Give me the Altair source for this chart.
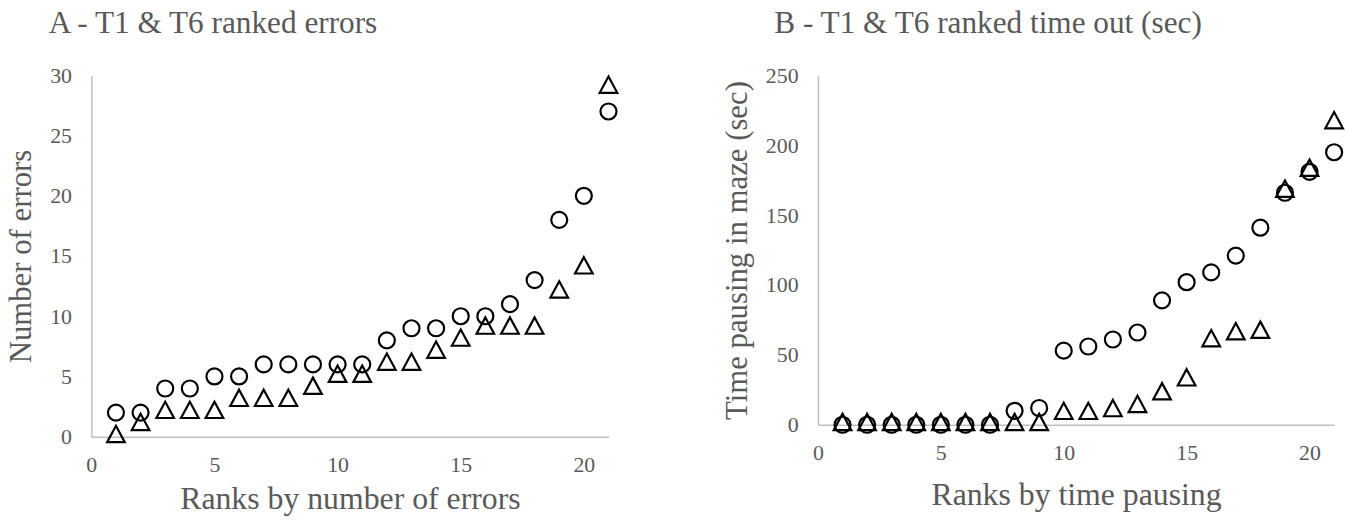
import altair as alt
import pandas as pd

ranks = list(range(1, 22))

# Panel A - ranked errors
a_circle = [2, 2, 4, 4, 5, 5, 6, 6, 6, 6, 6, 8, 9, 9, 10, 10, 11, 13, 18, 20, 27]
a_triangle = [0, 1, 2, 2, 2, 3, 3, 3, 4, 5, 5, 6, 6, 7, 8, 9, 9, 9, 12, 14, 29]

# Panel B - ranked time out (sec)
b_circle = [0, 0, 0, 0, 0, 0, 0, 10, 12, 53, 56, 61, 66, 89, 102, 109, 121, 141, 166, 181, 195]
b_triangle = [0, 0, 0, 0, 0, 0, 0, 0, 0, 8, 8, 10, 13, 22, 32, 60, 65, 66, 167, 182, 216]

x_ticks = [0, 5, 10, 15, 20]
a_y_ticks = [0, 5, 10, 15, 20, 25, 30]
b_y_ticks = [0, 50, 100, 150, 200, 250]

series = ["T1", "T6"]
TRI = "M0,-1.36L1.1,0.68L-1.1,0.68Z"

FONT = "Liberation Serif"
GRAY = "#595959"
AXIS_LINE = "#bfbfbf"


def long_df(c, t):
    return pd.DataFrame({
        "rank": ranks + ranks,
        "value": c + t,
        "series": [series[0]] * len(c) + [series[1]] * len(t),
    })


def panel(df, title, xtitle, ytitle, ymax, yticks, w, h, dx, xtpad):
    return alt.Chart(df).mark_point(
        filled=False, stroke="black", strokeWidth=2.2, opacity=1, size=260
    ).encode(
        x=alt.X("rank:Q", scale=alt.Scale(domain=[0, 21], nice=False),
                axis=alt.Axis(values=x_ticks, title=xtitle, grid=False, ticks=False,
                              domainColor=AXIS_LINE, domainWidth=1.5,
                              labelFont=FONT, labelFontSize=22, labelColor=GRAY,
                              labelPadding=18, titleFont=FONT, titleFontSize=32,
                              titleColor=GRAY, titleFontWeight="normal",
                              titlePadding=xtpad, labelFlush=False)),
        y=alt.Y("value:Q", scale=alt.Scale(domain=[0, ymax], nice=False),
                axis=alt.Axis(values=yticks, title=ytitle, grid=False, ticks=False,
                              domainColor=AXIS_LINE, domainWidth=1.5,
                              labelFont=FONT, labelFontSize=22, labelColor=GRAY,
                              labelPadding=20, titleFont=FONT, titleFontSize=31,
                              titleColor=GRAY, titleFontWeight="normal",
                              titlePadding=12)),
        shape=alt.Shape("series:N", scale=alt.Scale(domain=series, range=["circle", TRI]),
                        legend=None),
    ).properties(
        width=w, height=h,
        title=alt.Title(title, anchor="start", frame="group", dx=dx, offset=25,
                        font=FONT, fontSize=31.5, fontWeight="normal", color=GRAY),
    )


chart_a = panel(long_df(a_circle, a_triangle), "A - T1 & T6 ranked errors",
                "Ranks by number of errors", "Number of errors", 30, a_y_ticks,
                521, 364, -43, 8)
chart_b = panel(long_df(b_circle, b_triangle), "B - T1 & T6 ranked time out (sec)",
                "Ranks by time pausing", "Time pausing in maze (sec)", 250, b_y_ticks,
                520, 352, -44, 16)

chart = alt.hconcat(chart_a, chart_b, spacing=100).properties(
    padding={"left": 6, "top": 6, "right": 0, "bottom": 0},
    background="white",
).configure_view(stroke=None)

chart.save("out.html", embed_options={"renderer": "svg", "actions": False})
